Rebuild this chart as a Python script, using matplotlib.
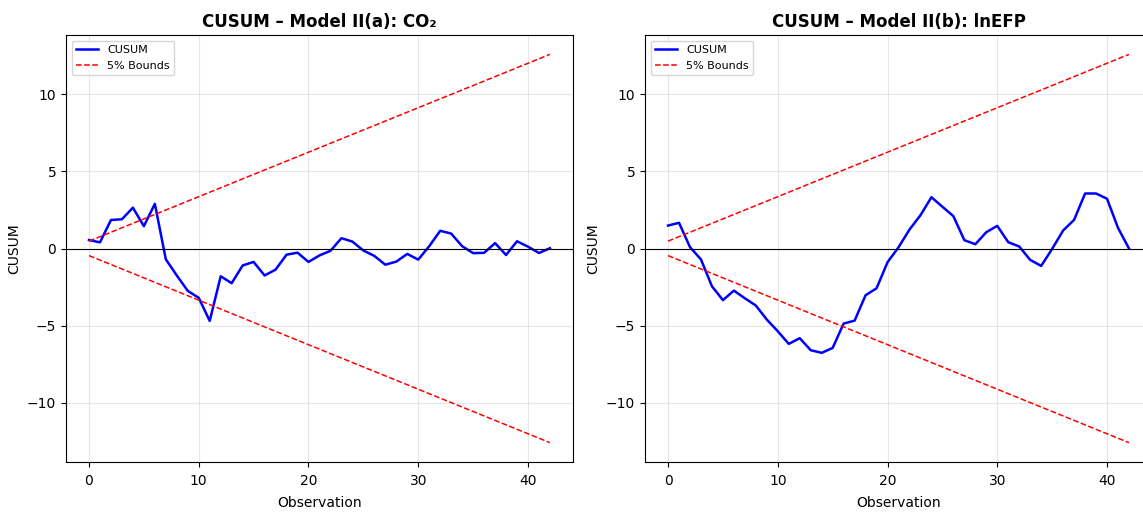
import matplotlib
matplotlib.use("Agg")
import matplotlib.pyplot as plt

obs = list(range(43))
cusum_co2 = [0.55, 0.4, 1.85, 1.9, 2.65, 1.45, 2.9, -0.7, -1.75, -2.75, -3.2, -4.7,
             -1.8, -2.25, -1.1, -0.87, -1.75, -1.37, -0.4, -0.27, -0.87, -0.45, -0.15,
             0.67, 0.45, -0.13, -0.48, -1.05, -0.85, -0.35, -0.72, 0.15, 1.15, 0.97,
             0.15, -0.3, -0.28, 0.35, -0.42, 0.47, 0.12, -0.29, 0.02]
cusum_lnefp = [1.49, 1.67, 0.09, -0.71, -2.45, -3.35, -2.73, -3.23, -3.7, -4.61, -5.37,
               -6.19, -5.82, -6.6, -6.77, -6.45, -4.87, -4.68, -3.03, -2.58, -0.89, 0.08,
               1.23, 2.16, 3.33, 2.71, 2.1, 0.54, 0.28, 1.06, 1.47, 0.41, 0.13, -0.74,
               -1.13, -0.02, 1.17, 1.86, 3.57, 3.57, 3.23, 1.34, 0.0]

# 5% significance bounds (straight lines, start and end values)
bound_x = [0, 42]
upper = [0.48, 12.6]
lower = [-0.46, -12.6]

panels = [("CUSUM \u2013 Model II(a): CO\u2082", cusum_co2),
          ("CUSUM \u2013 Model II(b): lnEFP", cusum_lnefp)]

fig = plt.figure(figsize=(11.43, 5.14), dpi=100)
ax1 = fig.add_axes([0.0577, 0.101, 0.4436, 0.831])
ax2 = fig.add_axes([0.5643, 0.101, 0.4436, 0.831])

for ax, (title, vals) in zip([ax1, ax2], panels):
    ax.plot(obs, vals, color='blue', linewidth=1.8, label='CUSUM')
    ax.plot(bound_x, upper, 'r--', linewidth=1.1, label='5% Bounds')
    ax.plot(bound_x, lower, 'r--', linewidth=1.1)
    ax.axhline(0, color='black', linewidth=0.8)
    ax.set_title(title, fontsize=12, fontweight='bold')
    ax.set_xlabel('Observation', fontsize=10, labelpad=6)
    ax.set_ylabel('CUSUM', fontsize=10)
    ax.tick_params(labelsize=10)
    ax.tick_params(axis='x', pad=5)
    ax.grid(True, alpha=0.3)
    ax.legend(loc='upper left', fontsize=8)

fig.savefig('out.png', dpi=100)
